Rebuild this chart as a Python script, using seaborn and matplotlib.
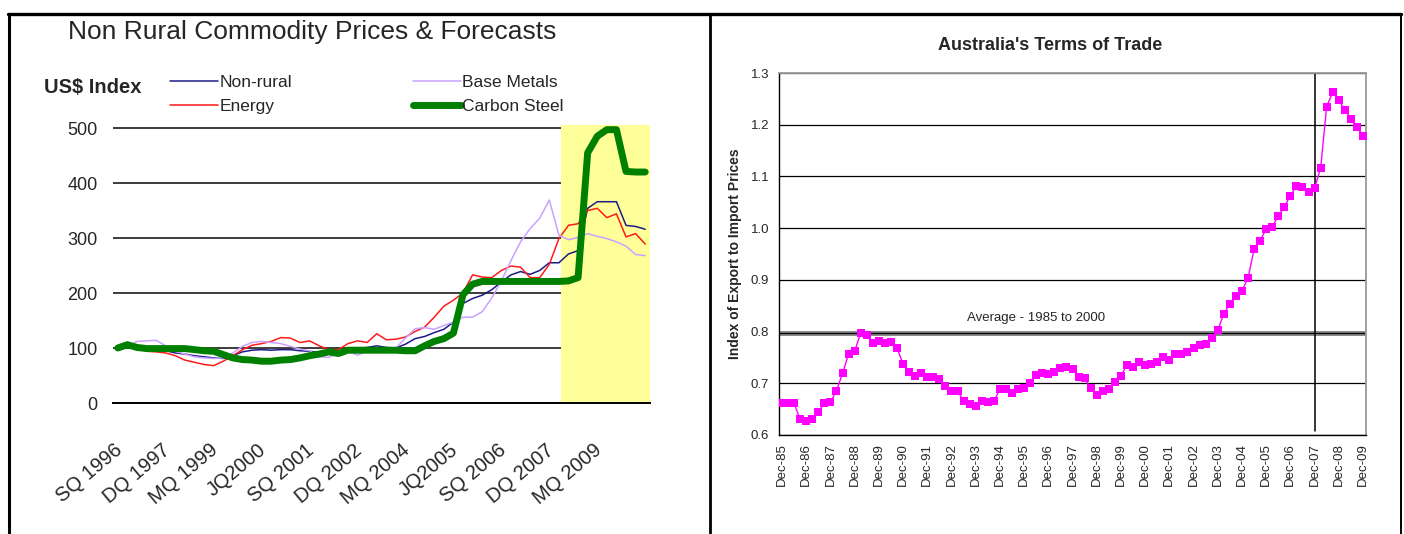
import numpy as np
import matplotlib
matplotlib.use("Agg")
import matplotlib.pyplot as plt
from matplotlib.lines import Line2D
import seaborn as sns

# ---------------- data: non-rural commodity prices (US$ index, quarterly) ----------------
quarter_labels = ["SQ 1996", "DQ 1997", "MQ 1999", "JQ2000", "SQ 2001", "DQ 2002",
                  "MQ 2004", "JQ2005", "SQ 2006", "DQ 2007", "MQ 2009"]
label_every = 5
n_quarters = 56

non_rural = [100, 102, 100, 99, 97, 95, 91, 89, 86, 84, 82, 81, 86, 93, 96, 97, 96, 97, 97, 95,
             94, 92, 90, 94, 97, 99, 101, 104, 101, 100, 107, 117, 121, 128, 134, 147, 181, 190, 196, 206,
             220, 233, 239, 234, 241, 255, 255, 271, 277, 354, 366, 366, 366, 323, 321, 316]
energy = [100, 102, 100, 94, 93, 91, 86, 78, 74, 70, 68, 76, 86, 97, 105, 108, 112, 119, 118, 110,
          113, 104, 97, 97, 108, 113, 110, 126, 115, 116, 120, 130, 138, 156, 176, 187, 200, 233, 229, 228,
          241, 249, 247, 228, 228, 252, 299, 323, 326, 350, 354, 337, 344, 302, 308, 289]
base_metals = [100, 103, 112, 113, 114, 104, 94, 89, 84, 82, 81, 82, 91, 103, 110, 112, 110, 108, 103, 98,
               95, 84, 83, 91, 94, 87, 94, 98, 100, 100, 118, 135, 137, 134, 141, 147, 156, 156, 166, 191,
               222, 259, 293, 317, 336, 369, 305, 297, 301, 308, 303, 299, 293, 285, 270, 268]
carbon_steel = [100, 106, 101, 99, 99, 99, 99, 99, 97, 95, 94, 88, 82, 79, 78, 76, 76, 78, 79, 82,
                86, 89, 93, 90, 96, 96, 96, 96, 96, 96, 95, 95, 104, 112, 117, 127, 197, 216, 221, 221,
                221, 221, 221, 221, 221, 221, 221, 222, 228, 455, 485, 497, 497, 421, 420, 420]
forecast_start = 46.7   # first forecast quarter (category units)

# ---------------- data: Australia's terms of trade (quarterly, Dec-85 .. Dec-09) ----------------
year_labels = ["Dec-%02d" % (y % 100) for y in range(1985, 2010)]
terms_of_trade = [0.662, 0.661, 0.661, 0.630, 0.627, 0.630, 0.644, 0.662, 0.663, 0.686,
                  0.719, 0.757, 0.762, 0.797, 0.794, 0.777, 0.782, 0.778, 0.780, 0.769,
                  0.737, 0.721, 0.715, 0.719, 0.713, 0.713, 0.709, 0.694, 0.685, 0.685,
                  0.666, 0.659, 0.657, 0.665, 0.664, 0.665, 0.688, 0.689, 0.682, 0.688,
                  0.690, 0.701, 0.716, 0.719, 0.718, 0.721, 0.730, 0.732, 0.728, 0.712,
                  0.710, 0.690, 0.677, 0.686, 0.688, 0.702, 0.715, 0.735, 0.731, 0.741,
                  0.735, 0.737, 0.741, 0.750, 0.745, 0.756, 0.756, 0.761, 0.768, 0.774,
                  0.776, 0.788, 0.803, 0.834, 0.854, 0.868, 0.879, 0.903, 0.959, 0.976,
                  0.998, 1.003, 1.023, 1.041, 1.063, 1.081, 1.079, 1.069, 1.077, 1.116,
                  1.235, 1.263, 1.247, 1.229, 1.212, 1.195, 1.179]
average_1985_2000 = 0.797
marker_quarter = 88.15   # Dec-07

# ---------------- figure ----------------
sns.set_style("white")
plt.rcParams["font.family"] = ["Liberation Sans", "DejaVu Sans"]

W, H = 1404, 534
fig = plt.figure(figsize=(W / 100, H / 100), dpi=100)


def px_box(left, top, right, bottom):
    return [left / W, 1 - bottom / H, (right - left) / W, (bottom - top) / H]


# ---------------- left panel ----------------
ax1 = fig.add_axes(px_box(113, 125, 650, 403))
q = np.arange(n_quarters) + 0.5
series = [("Non-rural", non_rural, "#1c1c86", 1.1),
          ("Energy", energy, "#ff1a1a", 1.1),
          ("Base Metals", base_metals, "#c9a2ff", 1.1),
          ("Carbon Steel", carbon_steel, "#008000", 5.0)]
handles = {}
for name, vals, col, lw in series:
    sns.lineplot(x=q, y=vals, ax=ax1, color=col, lw=lw, zorder=3 if lw > 2 else 2.5)
    handles[name] = Line2D([], [], color=col, lw=lw)

ax1.set_xlim(0, n_quarters)
ax1.set_ylim(0, 505.5)
ax1.set_axisbelow(True)
ax1.set_yticks(range(0, 501, 100))
ax1.yaxis.grid(True, color="#3c3c3c", lw=1.4)
ax1.axvspan(forecast_start, n_quarters, color="#ffff99", lw=0, zorder=1)
for s in ["left", "top", "right"]:
    ax1.spines[s].set_visible(False)
ax1.spines["bottom"].set_color("black")
ax1.spines["bottom"].set_linewidth(1.4)
ax1.set_xticks(np.arange(0, n_quarters + 1))
ax1.set_xticklabels([])
ax1.tick_params(axis="x", which="major", direction="out", length=7, width=1.3, color="black")
# label ends sit just left of each labelled quarter's centre
label_pos = q[::label_every][:len(quarter_labels)] - 0.4
ax1.set_xticks(label_pos, minor=True)
ax1.set_xticklabels(quarter_labels, minor=True, rotation=40, ha="right",
                    rotation_mode="anchor", fontsize=14.5)
ax1.tick_params(axis="x", which="minor", length=0, pad=27)
ax1.tick_params(axis="y", length=0, pad=11, labelsize=13)
ax1.set_xlabel("")
ax1.set_ylabel("")

leg_kw = dict(loc="upper left", bbox_transform=fig.transFigure, frameon=False, fontsize=12.5,
              handlelength=2.75, handletextpad=0.1, borderpad=0, borderaxespad=0,
              labelspacing=0.48)
leg_a = ax1.legend([handles["Non-rural"], handles["Energy"]], ["Non-rural", "Energy"],
                   bbox_to_anchor=(170 / W, 1 - 75 / H), **leg_kw)
ax1.add_artist(leg_a)
ax1.legend([handles["Base Metals"], handles["Carbon Steel"]], ["Base Metals", "Carbon Steel"],
           bbox_to_anchor=(413 / W, 1 - 75 / H), **leg_kw)

fig.text(68 / W, 1 - 32 / H, "Non Rural Commodity Prices & Forecasts", fontsize=19, va="center")
fig.text(44 / W, 1 - 87 / H, "US$ Index", fontsize=14.5, fontweight="bold", va="center")

# ---------------- right panel ----------------
ax2 = fig.add_axes(px_box(779, 73, 1366, 435))
t = np.arange(len(terms_of_trade))
ax2.set_axisbelow(True)
ax2.yaxis.grid(True, color="black", lw=0.9)
ax2.axhline(average_1985_2000, color="#8a8a8a", lw=3.6, zorder=1.5)
ax2.axhline(average_1985_2000, color="black", lw=0.9, zorder=1.6)
ax2.axvline(marker_quarter, ymin=0.012, ymax=1, color="black", lw=1.1, zorder=1.7)
sns.lineplot(x=t, y=terms_of_trade, ax=ax2, color="#ff00ff", lw=1.0, marker="s",
             markersize=5.5, markeredgewidth=0, zorder=3)
ax2.text(30.5, 0.826, "Average - 1985 to 2000", fontsize=9.5, va="center", ha="left")

ax2.set_xlim(-0.5, len(terms_of_trade) - 0.5)
ax2.set_ylim(0.6, 1.3)
ax2.set_yticks(np.round(np.arange(0.6, 1.31, 0.1), 1))
ax2.set_yticklabels(["%.1f" % v for v in np.arange(0.6, 1.31, 0.1)])
ax2.set_xticks(np.arange(-0.5, len(terms_of_trade), 2))
ax2.set_xticklabels([])
ax2.tick_params(axis="x", which="major", direction="inout", length=8, width=1, color="black")
ax2.set_xticks(t[::4], minor=True)
ax2.set_xticklabels(year_labels, minor=True, rotation=90, fontsize=9.5)
ax2.tick_params(axis="x", which="minor", length=0, pad=6)
ax2.tick_params(axis="y", direction="inout", length=8, width=1, color="black",
                labelsize=9.5, pad=3)
for s in ["left", "bottom"]:
    ax2.spines[s].set_color("black")
    ax2.spines[s].set_linewidth(1)
for s in ["top", "right"]:
    ax2.spines[s].set_color("#9a9a9a")
    ax2.spines[s].set_linewidth(1.3)
ax2.set_xlabel("")
ax2.set_ylabel("Index of Export to Import Prices", fontsize=10, fontweight="bold")
ax2.yaxis.set_label_coords((742 - 779) / 587, 0.5)
fig.text(1050 / W, 1 - 46 / H, "Australia's Terms of Trade", fontsize=13, fontweight="bold",
         ha="center", va="center")

# ---------------- panel frame ----------------
frame_kw = dict(transform=fig.transFigure, color="black")
fig.add_artist(Line2D([8 / W, 1401 / W], [1 - 14 / H, 1 - 14 / H], lw=2.4, **frame_kw))
fig.add_artist(Line2D([9 / W, 9 / W], [0, 1 - 14 / H], lw=2.2, **frame_kw))
fig.add_artist(Line2D([710 / W, 710 / W], [0, 1 - 14 / H], lw=2.0, **frame_kw))
fig.add_artist(Line2D([1401 / W, 1401 / W], [0, 1 - 14 / H], lw=1.4, **frame_kw))

fig.savefig("out.png", dpi=100)
